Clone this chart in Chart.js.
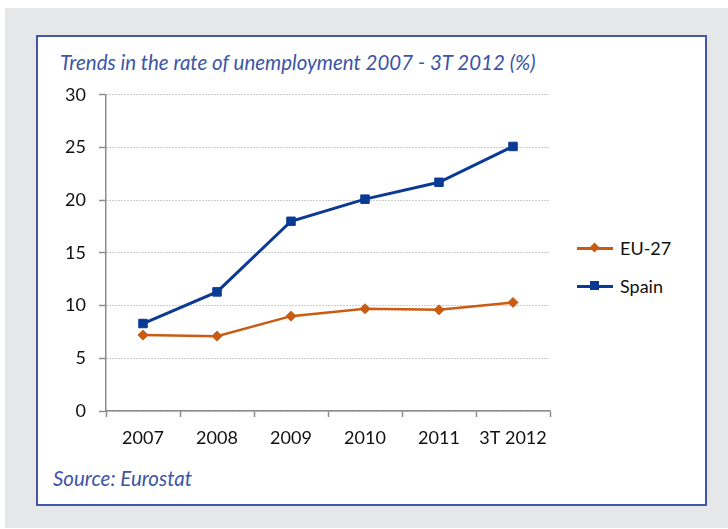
<!DOCTYPE html>
<html lang="en">
  <head>
    <meta charset="UTF-8" />
    <title>Trends in the rate of unemployment</title>
    <script src="https://cdn.jsdelivr.net/npm/chart.js"></script>
    <style>
      body {
        margin: 0;
        width: 728px;
        height: 529px;
        background: #fff;
        font-family: Lato, sans-serif;
        position: relative;
        overflow: hidden;
      }
      #bg {
        position: absolute;
        left: 5px;
        top: 8px;
        width: 723px;
        height: 520px;
        background: #e6e7e8;
      }
      #box {
        position: absolute;
        left: 36px;
        top: 35px;
        width: 667px;
        height: 467px;
        background: #fff;
        border: 2px solid #4157a9;
      }
      .note {
        position: absolute;
        font-style: italic;
        font-size: 20.5px;
        line-height: 22px;
        color: #3d55a7;
        white-space: nowrap;
      }
      #title { left: 60px; top: 51px; }
      #source { left: 53px; top: 467px; }
      #chartWrap {
        position: absolute;
        left: 40px;
        top: 71px;
        width: 520px;
        height: 383px;
      }
      .legend {
        position: absolute;
        left: 577px;
        font-size: 18px;
        line-height: 20px;
        color: #111;
      }
      .legend .ln {
        position: absolute;
        left: 0;
        top: 9px;
        width: 36px;
        height: 3px;
      }
      .legend .mk {
        position: absolute;
      }
      .legend span { position: absolute; left: 43px; top: 0; white-space: nowrap; }
    </style>
  </head>
  <body>
    <div id="bg"></div>
    <div id="box"></div>
    <div id="title" class="note">Trends in the rate of unemployment 2007 - 3T 2012 (%)</div>
    <div id="source" class="note">Source: Eurostat</div>
    <div id="chartWrap"><canvas id="chart"></canvas></div>

    <div class="legend" style="top: 238px">
      <div class="ln" style="background: #c95b12"></div>
      <div class="mk" style="left: 14px; top: 6px; width: 7px; height: 7px; background: #c95b12; transform: rotate(45deg)"></div>
      <span>EU-27</span>
    </div>
    <div class="legend" style="top: 276px">
      <div class="ln" style="background: #0a3a94"></div>
      <div class="mk" style="left: 13px; top: 5px; width: 9px; height: 9px; background: #0a3a94"></div>
      <span>Spain</span>
    </div>

    <script>
      const years = ["2007", "2008", "2009", "2010", "2011", "3T 2012"];
      const eu27 = [7.2, 7.1, 9.0, 9.7, 9.6, 10.3];
      const spain = [8.3, 11.3, 18.0, 20.1, 21.7, 25.1];
      const yTicks = [0, 5, 10, 15, 20, 25, 30];

      const orange = "#c95b12";
      const blue = "#0a3a94";

      new Chart(document.getElementById("chart"), {
        type: "line",
        data: {
          labels: years,
          datasets: [
            {
              label: "EU-27",
              data: eu27,
              borderColor: orange,
              backgroundColor: orange,
              borderWidth: 2.5,
              pointStyle: "rectRot",
              pointRadius: 5,
              pointBorderWidth: 1,
              tension: 0,
            },
            {
              label: "Spain",
              data: spain,
              borderColor: blue,
              backgroundColor: blue,
              borderWidth: 3,
              pointStyle: "rect",
              pointRadius: 6,
              pointBorderWidth: 1,
              tension: 0,
            },
          ],
        },
        options: {
          responsive: true,
          maintainAspectRatio: false,
          animation: false,
          layout: { padding: { top: 1, right: 10, left: 0, bottom: 0 } },
          plugins: {
            legend: { display: false },
            tooltip: { enabled: false },
          },
          scales: {
            x: {
              offset: true,
              grid: {
                offset: true,
                drawOnChartArea: false,
                tickLength: 6,
                tickColor: "#8c8c8c",
                tickWidth: 1.5,
              },
              border: { color: "#8c8c8c", width: 1.5 },
              ticks: {
                color: "#111",
                font: { family: "Lato", size: 18 },
                padding: 10,
                maxRotation: 0,
              },
              afterFit: (scale) => {
                scale.height = 43;
              },
            },
            y: {
              min: 0,
              max: 30,
              afterBuildTicks: (scale) => {
                scale.ticks = yTicks.map((v) => ({ value: v }));
              },
              grid: {
                color: "#9a9a9a",
                lineWidth: 1,
                tickLength: 7,
                tickColor: "#8c8c8c",
                tickWidth: 1.5,
                tickBorderDash: [],
              },
              border: { color: "#8c8c8c", width: 1.5, dash: [1, 2] },
              ticks: {
                color: "#111",
                font: { family: "Lato", size: 18 },
                padding: 13,
              },
              afterFit: (scale) => {
                scale.width = 66;
              },
            },
          },
        },
      });
    </script>
  </body>
</html>
